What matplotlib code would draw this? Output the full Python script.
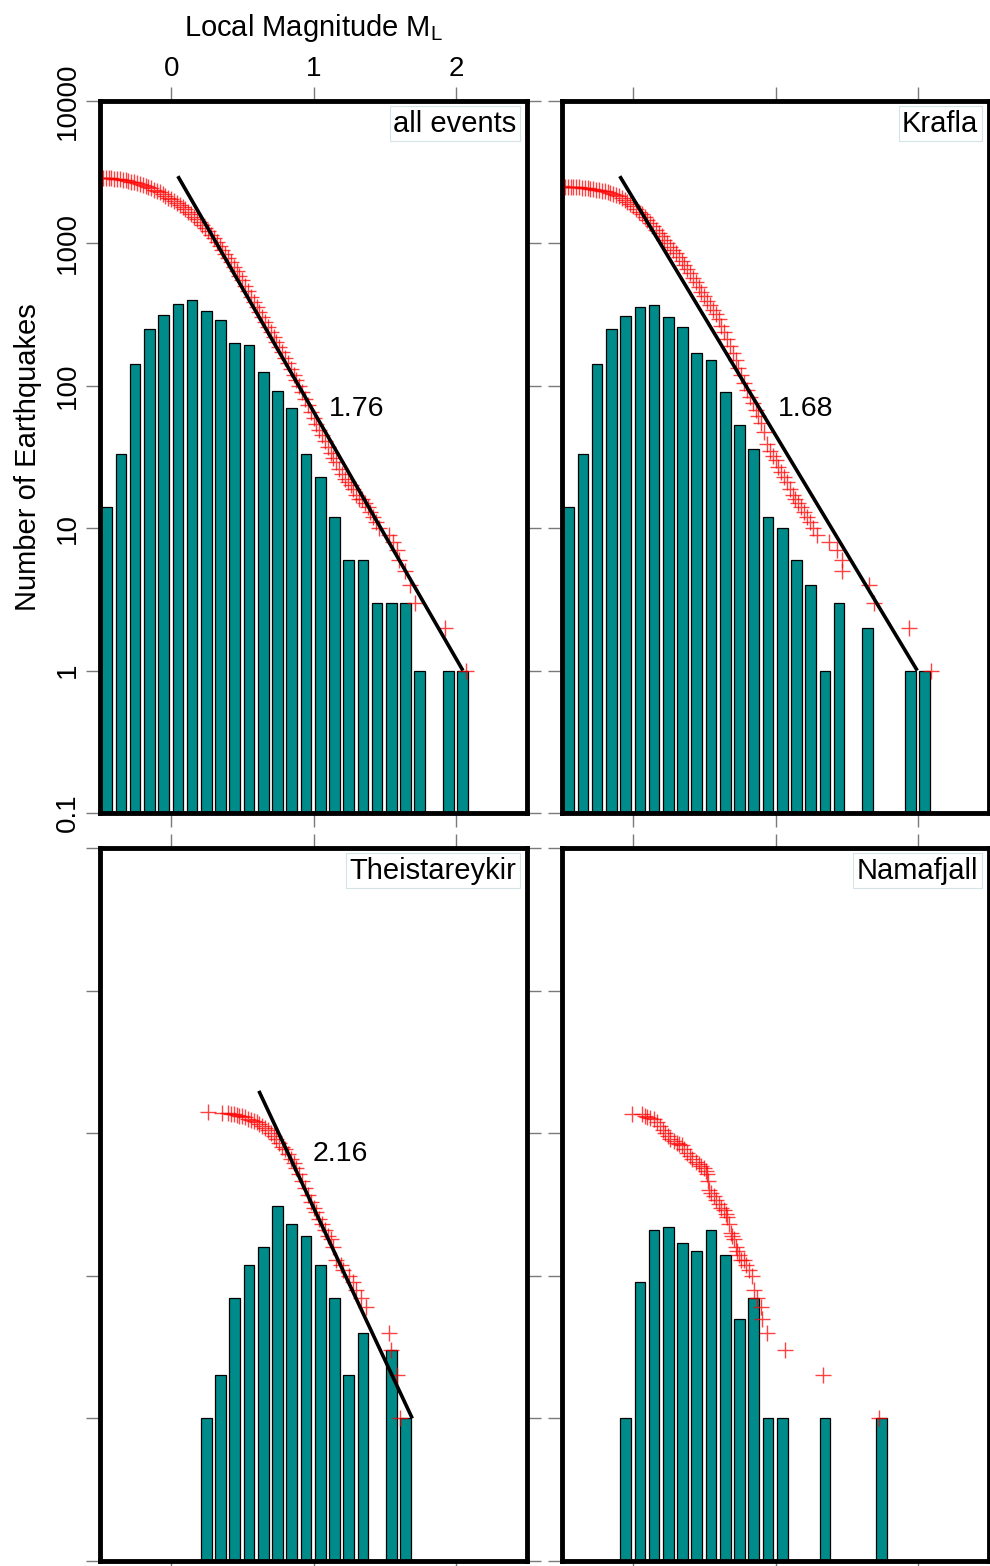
import numpy as np
import matplotlib
matplotlib.use("Agg")
import matplotlib.pyplot as plt
from matplotlib.ticker import FixedLocator, FixedFormatter, NullLocator

plt.rcParams['font.family'] = ['Liberation Sans', 'DejaVu Sans']
plt.rcParams['mathtext.fontset'] = 'custom'
plt.rcParams['mathtext.rm'] = 'Liberation Sans'
plt.rcParams['mathtext.it'] = 'Liberation Sans:italic'

# ---------------- data ----------------
# histogram bins (left edges, width 0.1) and counts
bins_all = np.round(np.arange(-0.5, 2.05, 0.1), 2)
hist_all = [14, 33, 142, 252, 315, 377, 398, 333, 288, 199, 192, 126, 92, 70,
            33, 23, 12, 6, 6, 3, 3, 3, 1, 0, 1, 1]
bins_krafla = np.round(np.arange(-0.5, 2.05, 0.1), 2)
hist_krafla = [14, 33, 142, 252, 310, 358, 372, 306, 259, 170, 152, 91, 53, 36,
               12, 10, 6, 4, 1, 3, 0, 2, 0, 0, 1, 1]
bins_theis = np.round(np.arange(0.2, 1.65, 0.1), 2)
hist_theis = [1, 2, 7, 12, 16, 31, 23, 19, 12, 7, 2, 4, 0, 3, 1]
bins_nama = np.round(np.arange(-0.1, 1.75, 0.1), 2)
hist_nama = [1, 9, 21, 22, 17, 15, 21, 14, 5, 7, 1, 1, 0, 0, 1, 0, 0, 0, 1]

# cumulative number of events (red crosses)
cum_m_all = list(np.round(np.arange(-0.50, 1.461, 0.02), 2)) + \
    [1.53, 1.56, 1.59, 1.60, 1.64, 1.675, 1.715, 1.925, 2.07]
cum_n_all = [2884, 2877, 2870, 2864, 2857, 2851,
             2831, 2812, 2793, 2773, 2754,
             2716, 2679, 2642, 2606, 2570,
             2523, 2477, 2432, 2388, 2344,
             2280, 2218, 2158, 2099, 2042,
             1977, 1914, 1854, 1795, 1738,
             1667, 1600, 1535, 1472, 1413,
             1343, 1276, 1213, 1153, 1096,
             1028, 964, 904, 847, 794,
             738, 685, 637, 592, 550,
             504, 461, 423, 387, 355,
             328, 303, 281, 259, 240,
             221, 203, 187, 172, 158,
             145, 132, 120, 110, 100,
             90, 81, 73, 65, 59,
             54, 49, 45, 41, 37,
             34, 31, 29, 26, 24,
             22, 21, 20, 19, 17,
             16, 16, 15, 14, 13,
             12, 11, 10,
             9, 8, 7, 6, 5, 4, 3, 2, 1]

cum_m_krafla = list(np.round(np.arange(-0.50, 1.201, 0.02), 2)) + \
    [1.22, 1.24, 1.26, 1.29, 1.375, 1.435, 1.465, 1.47, 1.655, 1.69, 1.935, 2.09]
cum_n_krafla = [2512, 2507, 2500, 2495, 2490, 2483,
                2472, 2460, 2449, 2438, 2427,
                2404, 2382, 2360, 2339, 2317,
                2280, 2244, 2208, 2173, 2138,
                2070, 2004, 1941, 1879, 1820,
                1742, 1667, 1596, 1528, 1462,
                1387, 1315, 1247, 1183, 1122,
                1062, 1005, 951, 899, 851,
                798, 748, 701, 658, 617,
                573, 532, 494, 459, 427,
                396, 368, 342, 318, 295,
                264, 237, 212, 190, 170,
                151, 134, 119, 105, 93,
                84, 76, 68, 61, 55,
                47, 39, 35, 32, 30,
                27, 25, 23, 21, 19,
                17, 16, 15, 14, 13,
                12, 11, 10, 9, 8, 7, 6, 5, 4, 3, 2, 1]

cum_m_theis = [0.26, 0.36, 0.40, 0.42, 0.44, 0.46, 0.48, 0.50, 0.52, 0.54, 0.56,
               0.58, 0.60, 0.62, 0.64, 0.66, 0.68, 0.70, 0.72, 0.74, 0.76, 0.78,
               0.80, 0.82, 0.84, 0.86, 0.88, 0.90, 0.92, 0.94, 0.96, 0.98, 1.00,
               1.02, 1.04, 1.06, 1.08, 1.10, 1.12, 1.14, 1.16, 1.19, 1.21, 1.25,
               1.28, 1.30, 1.335, 1.37, 1.53, 1.545, 1.59, 1.605]
cum_n_theis = [140, 139, 138, 137, 136, 134, 132, 131, 129, 126, 124,
               121, 119, 116, 112, 109, 105, 101, 96, 91, 85, 80,
               77, 72, 66, 62, 57, 52, 46, 41, 37, 33, 30,
               28, 25, 23, 21, 19, 18, 16, 13, 12, 11, 10,
               9, 8, 7, 6, 4, 3, 2, 1]

cum_m_nama = [-0.007, 0.063, 0.08, 0.098, 0.12, 0.145, 0.17, 0.192, 0.21, 0.227,
              0.245, 0.262, 0.285, 0.309, 0.325, 0.344, 0.36, 0.38, 0.40, 0.415,
              0.44, 0.461, 0.48, 0.496, 0.51, 0.52, 0.527, 0.532, 0.55, 0.567,
              0.585, 0.602, 0.62, 0.637, 0.65, 0.66, 0.672, 0.684, 0.695, 0.707,
              0.719, 0.73, 0.742, 0.76, 0.777, 0.795, 0.813, 0.836, 0.848, 0.87,
              0.895, 0.906, 0.942, 1.066, 1.333, 1.726]
cum_n_nama = [137, 136, 133, 129, 127, 125, 119, 112, 106, 101,
              96, 91, 88, 86, 84, 82, 77, 73, 69, 66,
              63, 61, 59, 57, 54, 52, 46, 40, 38, 36,
              34, 32, 30, 29, 27, 26, 23, 20, 19, 18,
              16, 15, 14, 13, 13, 12, 11, 10, 8, 7,
              6, 5, 4, 3, 2, 1]

# Gutenberg-Richter fits (end points) and b-values
fit_m_all, fit_n_all = [0.047, 2.05], [2965, 1]
fit_m_krafla, fit_n_krafla = [-0.094, 1.996], [2965, 1]
fit_m_theis, fit_n_theis = [0.616, 1.694], [198, 1]
b_all, b_krafla, b_theis = "1.76", "1.68", "2.16"
b_pos_all = (1.11, 69)
b_pos_krafla = (1.02, 69)
b_pos_theis = (0.995, 71)

titles = ["all events", "Krafla", "Theistareykir", "Namafjall"]
yticks = [0.1, 1, 10, 100, 1000, 10000]
ytick_labels = ["0.1", "1", "10", "100", "1000", "10000"]
xticks = [0, 1, 2]
xtick_labels = ["0", "1", "2"]

# ---------------- style ----------------
BAR_COLOR = '#008b8b'
BAR_OFFSET = 0.047
BAR_W = 0.075
W, H = 990, 1566

fig = plt.figure(figsize=(W / 100, H / 100), dpi=100)


def px_axes(x0, y0, x1, y1):
    return fig.add_axes([x0 / W, 1 - y1 / H, (x1 - x0) / W, (y1 - y0) / H])


panels = [
    dict(box=(100, 101, 527, 813), bins=bins_all, hist=hist_all,
         cm=cum_m_all, cn=cum_n_all, fm=fit_m_all, fn=fit_n_all,
         b=b_all, bpos=b_pos_all, title=titles[0], labels=True),
    dict(box=(562, 101, 989, 813), bins=bins_krafla, hist=hist_krafla,
         cm=cum_m_krafla, cn=cum_n_krafla, fm=fit_m_krafla, fn=fit_n_krafla,
         b=b_krafla, bpos=b_pos_krafla, title=titles[1], labels=False),
    dict(box=(100, 848, 527, 1561), bins=bins_theis, hist=hist_theis,
         cm=cum_m_theis, cn=cum_n_theis, fm=fit_m_theis, fn=fit_n_theis,
         b=b_theis, bpos=b_pos_theis, title=titles[2], labels=False),
    dict(box=(562, 848, 989, 1561), bins=bins_nama, hist=hist_nama,
         cm=cum_m_nama, cn=cum_n_nama, fm=None, fn=None,
         b=None, bpos=None, title=titles[3], labels=False),
]

for p in panels:
    ax = px_axes(*p['box'])
    ax.set_yscale('log')
    bins = np.asarray(p['bins'])
    hist = np.asarray(p['hist'])
    keep = hist > 0
    ax.bar(bins[keep] + BAR_OFFSET, hist[keep], width=BAR_W, color=BAR_COLOR,
           edgecolor='black', linewidth=0.9, log=True, zorder=2)
    ax.plot(p['cm'], p['cn'], linestyle='none', marker='+', color='red',
            markersize=11.5, markeredgewidth=1.0, alpha=0.75, zorder=3)
    if p['fm'] is not None:
        ax.plot(p['fm'], p['fn'], color='black', linewidth=2.6, zorder=4,
                solid_capstyle='butt')
        ax.text(p['bpos'][0], p['bpos'][1], p['b'], fontsize=20.5,
                ha='left', va='center', zorder=5)
    ax.text(0.975, 0.968, p['title'], transform=ax.transAxes, ha='right',
            va='center', fontsize=21, zorder=6,
            bbox=dict(boxstyle='square,pad=0.12', fc='white', ec='#d5e2e8', lw=0.8))

    ax.set_xlim(-0.5, 2.5)
    ax.set_ylim(0.1, 10000)
    ax.xaxis.set_major_locator(FixedLocator(xticks))
    ax.xaxis.set_major_formatter(FixedFormatter(xtick_labels))
    ax.xaxis.set_minor_locator(NullLocator())
    ax.yaxis.set_major_locator(FixedLocator(yticks))
    ax.yaxis.set_major_formatter(FixedFormatter(ytick_labels))
    ax.yaxis.set_minor_locator(NullLocator())
    for s in ax.spines.values():
        s.set_linewidth(3.5)
        s.set_color('black')
        s.set_zorder(7)
    ax.tick_params(which='major', direction='out', length=10, width=1,
                   color='#7a7a7a', top=True, bottom=True, left=True, right=True,
                   labelbottom=False, labeltop=p['labels'], labelleft=p['labels'],
                   labelright=False, labelsize=20, pad=4)
    if p['labels']:
        for lab in ax.get_yticklabels():
            lab.set_rotation(90)
            lab.set_va('center')
        ax.xaxis.set_label_position('top')
        ax.set_xlabel('Local Magnitude M$_{\\mathrm{L}}$', fontsize=21, labelpad=14)
        ax.set_ylabel('Number of Earthquakes', fontsize=21, labelpad=9)

fig.savefig('out.png', dpi=100)
